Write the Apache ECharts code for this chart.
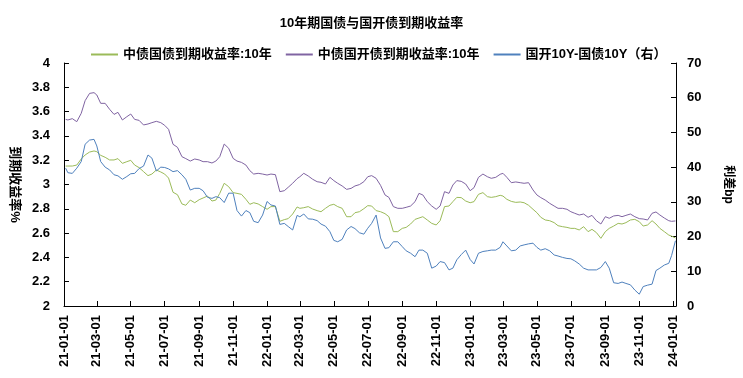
<!DOCTYPE html>
<html>
<head>
<meta charset="utf-8">
<title>10年期国债与国开债到期收益率</title>
<script src="https://cdn.jsdelivr.net/npm/echarts@6/dist/echarts.min.js"></script>
<style>
  html, body { margin: 0; padding: 0; background: #fff; }
  #chart { width: 743px; height: 378px; }
</style>
</head>
<body>
<div id="chart"></div>
<script>
// 取样日期（每月1/8/16/24日附近）
var dates = [
  '2021-01-04','2021-01-08','2021-01-16','2021-01-24','2021-02-01','2021-02-08','2021-02-16','2021-02-24',
  '2021-03-01','2021-03-08','2021-03-16','2021-03-24','2021-04-01','2021-04-08','2021-04-16','2021-04-24',
  '2021-05-01','2021-05-08','2021-05-16','2021-05-24','2021-06-01','2021-06-08','2021-06-16','2021-06-24',
  '2021-07-01','2021-07-08','2021-07-16','2021-07-24','2021-08-01','2021-08-08','2021-08-16','2021-08-24',
  '2021-09-01','2021-09-08','2021-09-16','2021-09-24','2021-10-01','2021-10-08','2021-10-16','2021-10-24',
  '2021-11-01','2021-11-08','2021-11-16','2021-11-24','2021-12-01','2021-12-08','2021-12-16','2021-12-24',
  '2022-01-01','2022-01-08','2022-01-16','2022-01-24','2022-02-01','2022-02-08','2022-02-16','2022-02-24',
  '2022-03-01','2022-03-08','2022-03-16','2022-03-24','2022-04-01','2022-04-08','2022-04-16','2022-04-24',
  '2022-05-01','2022-05-08','2022-05-16','2022-05-24','2022-06-01','2022-06-08','2022-06-16','2022-06-24',
  '2022-07-01','2022-07-08','2022-07-16','2022-07-24','2022-08-01','2022-08-08','2022-08-16','2022-08-24',
  '2022-09-01','2022-09-08','2022-09-16','2022-09-24','2022-10-01','2022-10-08','2022-10-16','2022-10-24',
  '2022-11-01','2022-11-08','2022-11-16','2022-11-24','2022-12-01','2022-12-08','2022-12-16','2022-12-24',
  '2023-01-01','2023-01-08','2023-01-16','2023-01-24','2023-02-01','2023-02-08','2023-02-16','2023-02-24',
  '2023-03-01','2023-03-08','2023-03-16','2023-03-24','2023-04-01','2023-04-08','2023-04-16','2023-04-24',
  '2023-05-01','2023-05-08','2023-05-16','2023-05-24','2023-06-01','2023-06-08','2023-06-16','2023-06-24',
  '2023-07-01','2023-07-08','2023-07-16','2023-07-24','2023-08-01','2023-08-08','2023-08-16','2023-08-24',
  '2023-09-01','2023-09-08','2023-09-16','2023-09-24','2023-10-01','2023-10-08','2023-10-16','2023-10-24',
  '2023-11-01','2023-11-08','2023-11-16','2023-11-24','2023-12-01','2023-12-08','2023-12-16','2023-12-24',
  '2023-12-29','2024-01-05'
];

// 中债国债到期收益率:10年 (%)
var govYield = [
  3.152,3.152,3.152,3.160, 3.210,3.243,3.267,3.276, 3.270,3.240,3.224,3.202, 3.202,3.213,3.174,3.188,
  3.199,3.160,3.139,3.106, 3.073,3.086,3.119,3.103, 3.086,3.053,2.936,2.916, 2.840,2.829,2.872,2.850,
  2.875,2.889,2.905,2.864, 2.872,2.927,3.010,2.982, 2.933,2.927,2.919,2.878, 2.837,2.850,2.840,2.818,
  2.796,2.818,2.818,2.697, 2.711,2.719,2.757,2.815, 2.804,2.809,2.818,2.798, 2.785,2.776,2.804,2.829,
  2.837,2.818,2.804,2.735, 2.735,2.768,2.776,2.801, 2.826,2.823,2.785,2.776, 2.760,2.735,2.612,2.612,
  2.639,2.647,2.675,2.713, 2.724,2.735,2.708,2.680, 2.667,2.702,2.818,2.823, 2.859,2.894,2.892,2.864,
  2.850,2.859,2.919,2.933, 2.900,2.894,2.900,2.911, 2.905,2.878,2.861,2.853, 2.856,2.850,2.829,2.796,
  2.768,2.730,2.708,2.702, 2.686,2.661,2.653,2.647, 2.639,2.639,2.626,2.653, 2.612,2.631,2.604,2.557,
  2.612,2.639,2.658,2.680, 2.675,2.686,2.708,2.713, 2.694,2.658,2.667,2.702, 2.675,2.639,2.612,2.584,
  2.575,2.560
];

// 中债国开债到期收益率:10年 (%)
var cdbYield = [
  3.536,3.531,3.542,3.517, 3.586,3.690,3.750,3.756, 3.737,3.668,3.668,3.619, 3.577,3.594,3.531,3.558,
  3.580,3.536,3.528,3.490, 3.498,3.509,3.520,3.509, 3.487,3.454,3.331,3.306, 3.229,3.213,3.193,3.210,
  3.202,3.188,3.188,3.177, 3.193,3.229,3.333,3.298, 3.215,3.193,3.182,3.160, 3.114,3.086,3.092,3.086,
  3.078,3.086,3.081,2.941, 2.949,2.977,3.010,3.048, 3.064,3.092,3.070,3.043, 3.023,3.018,3.004,3.059,
  3.032,3.010,2.988,2.960, 2.968,2.988,2.999,3.023, 3.064,3.073,3.051,2.993, 2.914,2.894,2.818,2.804,
  2.804,2.812,2.823,2.859, 2.927,2.914,2.859,2.823, 2.796,2.823,2.941,2.927, 2.996,3.032,3.026,3.004,
  2.949,2.974,3.059,3.086, 3.064,3.051,3.059,3.084, 3.092,3.059,3.015,3.021, 3.015,3.010,3.015,2.955,
  2.914,2.892,2.872,2.845, 2.823,2.804,2.804,2.796, 2.776,2.763,2.749,2.757, 2.730,2.746,2.702,2.675,
  2.735,2.722,2.741,2.746, 2.735,2.746,2.757,2.735, 2.719,2.716,2.708,2.763, 2.774,2.749,2.724,2.702,
  2.697,2.700
];

// 国开10Y-国债10Y (bp, 右轴)
var spreadBp = [
  39.7,38.4,38.2,39.7, 41.6,46.6,47.8,48.0, 46.1,41.6,40.0,39.2, 37.8,37.5,36.5,37.3,
  38.1,38.2,39.6,40.3, 43.5,42.6,38.9,40.0, 39.9,39.5,38.7,39.0, 37.8,36.5,33.4,33.9,
  33.9,33.2,31.3,31.0, 31.5,31.2,29.8,32.5, 32.5,27.5,25.9,27.5, 26.9,24.4,24.0,26.2,
  30.1,29.1,28.8,23.5, 23.8,22.9,21.9,26.1, 25.7,26.5,25.1,25.0, 24.6,23.6,23.0,21.4,
  18.9,18.5,19.2,21.9, 22.9,22.3,21.1,20.7, 22.4,23.8,26.2,19.6, 16.6,16.8,18.5,18.5,
  17.1,15.9,15.2,14.2, 16.1,16.1,15.2,10.9, 11.5,12.8,12.5,10.4, 10.9,13.3,14.8,16.1,
  13.4,12.1,15.2,15.7, 15.9,16.1,16.1,16.9, 18.5,17.3,15.9,16.1, 17.3,17.6,17.9,18.1,
  16.9,16.1,16.5,15.9, 14.7,14.4,14.0,13.7, 13.6,13.0,12.1,10.9, 10.4,10.4,10.4,11.1,
  12.8,10.9,6.7,6.5, 6.9,6.5,6.1,4.6, 3.4,5.6,6.0,6.3, 10.2,10.9,11.8,12.3,
  14.5,18.8
];

// x轴刻度（每两个月）
var tickDates = [
  '2021-01-01','2021-03-01','2021-05-01','2021-07-01','2021-09-01','2021-11-01',
  '2022-01-01','2022-03-01','2022-05-01','2022-07-01','2022-09-01','2022-11-01',
  '2023-01-01','2023-03-01','2023-05-01','2023-07-01','2023-09-01','2023-11-01',
  '2024-01-01'
];
var xStart = '2021-01-01';
var xEnd = '2024-01-06';

var seriesNames = ['中债国债到期收益率:10年', '中债国开债到期收益率:10年', '国开10Y-国债10Y（右）'];
var colors = ['#9BBB59', '#8064A2', '#4F81BD'];

var font = 'Arial, "Liberation Sans", "Noto Sans CJK SC", sans-serif';

function pad(n) { return n < 10 ? '0' + n : '' + n; }
// 'YYYY-MM-DD' -> 时间戳
function ts(s) {
  var p = s.split('-');
  return Date.UTC(+p[0], +p[1] - 1, +p[2]);
}
function fmtDate(v) {
  var d = new Date(v);
  return pad(d.getUTCFullYear() % 100) + '-' + pad(d.getUTCMonth() + 1) + '-' + pad(d.getUTCDate());
}
function pairs(vals) {
  return dates.map(function (d, i) { return [ts(d), vals[i]]; });
}

var tickValues = tickDates.map(ts);

var chart = echarts.init(document.getElementById('chart'), null, { renderer: 'canvas' });

var option = {
  backgroundColor: '#fff',
  animation: false,
  color: colors,
  title: {
    text: '10年期国债与国开债到期收益率',
    left: 'center',
    top: 12,
    textStyle: { fontFamily: font, fontSize: 13, fontWeight: 'bold', color: '#000' }
  },
  legend: {
    left: 91,
    top: 48,
    padding: 0,
    icon: 'rect',
    itemWidth: 27,
    itemHeight: 2,
    itemGap: 14,
    textStyle: { fontFamily: font, fontSize: 13, fontWeight: 'bold', color: '#000' },
    data: seriesNames
  },
  grid: { left: 62, right: 67, top: 63, bottom: 72 },
  xAxis: {
    type: 'value',
    min: ts(xStart),
    max: ts(xEnd),
    scale: true,
    splitLine: { show: false },
    axisLine: { lineStyle: { color: '#000', width: 1 } },
    axisTick: { inside: true, length: 5, lineStyle: { color: '#000' }, customValues: tickValues },
    axisLabel: {
      customValues: tickValues,
      rotate: 90,
      margin: 9,
      fontFamily: font,
      fontSize: 13,
      fontWeight: 'bold',
      color: '#000',
      formatter: function (v) { return fmtDate(v); }
    }
  },
  yAxis: [
    {
      type: 'value',
      min: 2,
      max: 4,
      interval: 0.2,
      name: '到期收益率%',
      nameLocation: 'middle',
      nameRotate: -90,
      nameGap: 40,
      nameTextStyle: { fontFamily: font, fontSize: 13, fontWeight: 'bold', color: '#000' },
      splitLine: { show: false },
      axisLine: { show: true, lineStyle: { color: '#000', width: 1 } },
      axisTick: { show: true, inside: true, length: 5, lineStyle: { color: '#000' } },
      axisLabel: { margin: 14, fontFamily: font, fontSize: 13, fontWeight: 'bold', color: '#000' }
    },
    {
      type: 'value',
      min: 0,
      max: 70,
      interval: 10,
      name: '利差bp',
      nameLocation: 'middle',
      nameRotate: -90,
      nameGap: 46,
      nameTextStyle: { fontFamily: font, fontSize: 12, fontWeight: 'bold', color: '#000' },
      splitLine: { show: false },
      axisLine: { show: true, lineStyle: { color: '#000', width: 1 } },
      axisTick: { show: true, inside: true, length: 5, lineStyle: { color: '#000' } },
      axisLabel: { margin: 11, fontFamily: font, fontSize: 13, fontWeight: 'bold', color: '#000' }
    }
  ],
  series: [
    {
      name: seriesNames[0], type: 'line', yAxisIndex: 0, symbol: 'none',
      lineStyle: { width: 1, color: colors[0] }, data: pairs(govYield)
    },
    {
      name: seriesNames[1], type: 'line', yAxisIndex: 0, symbol: 'none',
      lineStyle: { width: 1, color: colors[1] }, data: pairs(cdbYield)
    },
    {
      name: seriesNames[2], type: 'line', yAxisIndex: 1, symbol: 'none',
      lineStyle: { width: 1, color: colors[2] }, data: pairs(spreadBp)
    }
  ]
};

chart.setOption(option);
</script>
</body>
</html>
